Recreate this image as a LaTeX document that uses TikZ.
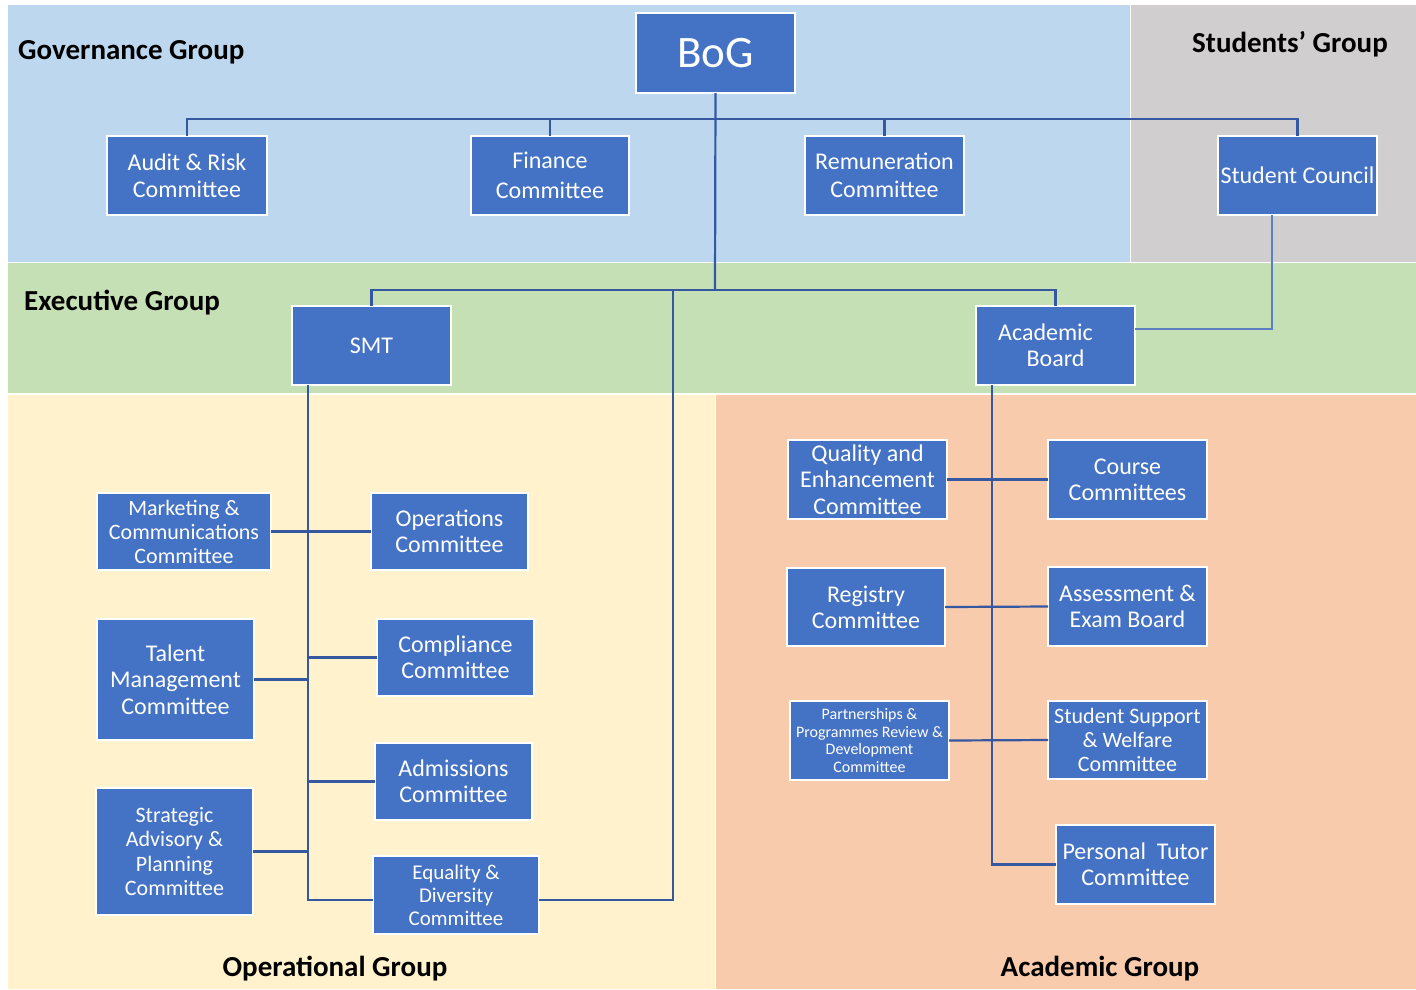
\documentclass[tikz,border=0pt]{standalone}
\usepackage{fontspec}
\setmainfont{Carlito}
\newcommand\fsz[2]{\fontsize{#1}{#2}\selectfont}
\definecolor{govblue}{HTML}{BDD7EE}
\definecolor{stugray}{HTML}{D0CECE}
\definecolor{exgreen}{HTML}{C5E0B4}
\definecolor{opyellow}{HTML}{FFF2CC}
\definecolor{acorange}{HTML}{F8CBAD}
\definecolor{boxblue}{HTML}{4472C4}
\definecolor{linecol}{HTML}{3558A0}
\definecolor{thincol}{HTML}{5B7FC2}
\begin{document}
\begin{tikzpicture}[x=1pt,y=-1pt,
  box/.style={draw=white, line width=1.5pt, fill=boxblue, text=white, inner sep=0pt, outer sep=0pt,
    anchor=north west, align=center, font=\fsz{24}{27}},
  conn/.style={draw=linecol, line width=2.2pt},
  thinconn/.style={draw=thincol, line width=1.3pt},
  grouplabel/.style={inner sep=0pt, font=\fsz{29}{33}\bfseries, text=black}]
\useasboundingbox (0,0) rectangle (1416,989);
\fill[white] (0,0) rectangle (1416,989);
% regions
\fill[govblue] (8,5) rectangle (1129.5,262);
\fill[stugray] (1130.5,5) rectangle (1416,262);
\fill[exgreen] (8,263) rectangle (1416,393);
\fill[opyellow] (8,395) rectangle (715,989);
\fill[acorange] (716,395) rectangle (1416,989);
% group labels
\node[grouplabel, anchor=west] (lgov) at (18,52) {Governance Group};
\node[grouplabel] (lstu) at (1290,44) {Students’ Group};
\node[grouplabel, anchor=west] (lexe) at (24,303) {Executive Group};
\node[grouplabel] (lop) at (335,969) {Operational Group};
\node[grouplabel] (lac) at (1100,969) {Academic Group};
% boxes
\node[box, minimum width=159pt, minimum height=80pt, font=\fsz{45}{50}] (bog) at (636,13) {BoG};
\node[box, minimum width=160pt, minimum height=79pt] (aud) at (107,136) {Audit \& Risk\\Committee};
\node[box, minimum width=158pt, minimum height=79pt, font=\fsz{24}{30}] (fin) at (471,136) {Finance\\Committee};
\node[box, minimum width=159pt, minimum height=79pt, font=\fsz{24}{28}] (rem) at (805,136) {Remuneration\\Committee};
\node[box, minimum width=159pt, minimum height=79pt] (stc) at (1218,136) {Student Council};
\node[box, minimum width=159pt, minimum height=79pt] (smt) at (292,306) {SMT};
\node[box, minimum width=159pt, minimum height=79pt, font=\fsz{24}{26}] (ab) at (976,306) {Academic\hspace*{20pt}\\Board};
\node[box, minimum width=174pt, minimum height=77pt, font=\fsz{22}{24}] (mkt) at (97,493) {Marketing \&\\Communications\\Committee};
\node[box, minimum width=157pt, minimum height=77pt, font=\fsz{24}{26}] (ops) at (371,493) {Operations\\Committee};
\node[box, minimum width=157pt, minimum height=121pt, font=\fsz{24}{26.5}] (tal) at (97,619) {Talent\\Management\\Committee};
\node[box, minimum width=157pt, minimum height=77pt, font=\fsz{24}{26}] (cmp) at (377,619) {Compliance\\Committee};
\node[box, minimum width=157pt, minimum height=77pt, font=\fsz{24}{26}] (adm) at (375,743) {Admissions\\Committee};
\node[box, minimum width=157pt, minimum height=127pt, font=\fsz{22}{24.6}] (sap) at (96,788) {Strategic\\Advisory \&\\Planning\\Committee};
\node[box, minimum width=166pt, minimum height=78pt, font=\fsz{21}{23}] (ed) at (373,856) {Equality \&\\Diversity\\Committee};
\node[box, minimum width=159pt, minimum height=79pt, font=\fsz{24}{26.5}] (qe) at (788,440) {Quality and\\Enhancement\\Committee};
\node[box, minimum width=159pt, minimum height=79pt, font=\fsz{24}{26}] (crs) at (1048,440) {Course\\Committees};
\node[box, minimum width=158pt, minimum height=78pt, font=\fsz{24}{26}] (reg) at (787,568) {Registry\\Committee};
\node[box, minimum width=159pt, minimum height=79pt, font=\fsz{24}{26}] (asm) at (1048,567) {Assessment \&\\Exam Board};
\node[box, minimum width=159pt, minimum height=79pt, font=\fsz{16}{17.7}] (prt) at (790,701) {Partnerships \&\\Programmes Review \&\\Development\\Committee};
\node[box, minimum width=159pt, minimum height=78pt, font=\fsz{22}{24}] (ssw) at (1048,701) {Student Support\\\& Welfare\\Committee};
\node[box, minimum width=159pt, minimum height=79pt, font=\fsz{24}{26}] (ptc) at (1056,825) {Personal\ \ Tutor\\Committee};
% junction coordinates
\coordinate (gb) at (715,119);
\coordinate (eb) at (715,290);
\coordinate (opdrop) at (673,290);
\coordinate (smtdrop) at ([xshift=16pt]smt.south west);
\coordinate (abdrop) at ([xshift=16pt]ab.south west);
\coordinate (stcdrop) at ([xshift=-25.5pt]stc.south);
\coordinate (abright) at ([yshift=16.5pt]ab.east);
\coordinate (edleft) at ([yshift=-5pt]ed.west);
\coordinate (edright) at ([yshift=-5pt]ed.east);
% governance connectors
\draw[conn] (aud.north) |- (gb) -| (stc.north);
\draw[conn] (fin.north) -- (fin.north |- gb);
\draw[conn] (rem.north) -- (rem.north |- gb);
\draw[conn] (bog.south) -- (eb);
% executive connectors
\draw[conn] (smt.north) |- (eb) -| (ab.north);
\draw[thinconn] (stcdrop) |- (abright);
% operational connectors
\draw[conn] (smtdrop) |- (edleft);
\draw[conn] (opdrop) |- (edright);
\draw[conn] (mkt.east) -- (ops.west);
\draw[conn] (tal.east) -- (tal.east -| smtdrop);
\draw[conn] (cmp.west) -- (cmp.west -| smtdrop);
\draw[conn] (adm.west) -- (adm.west -| smtdrop);
\draw[conn] (sap.east) -- (sap.east -| smtdrop);
% academic connectors
\draw[conn] (abdrop) |- (ptc.west);
\draw[conn] (qe.east) -- (crs.west);
\draw[conn] (reg.east) -- (asm.west);
\draw[conn] (prt.east) -- (ssw.west);
\end{tikzpicture}
\end{document}
